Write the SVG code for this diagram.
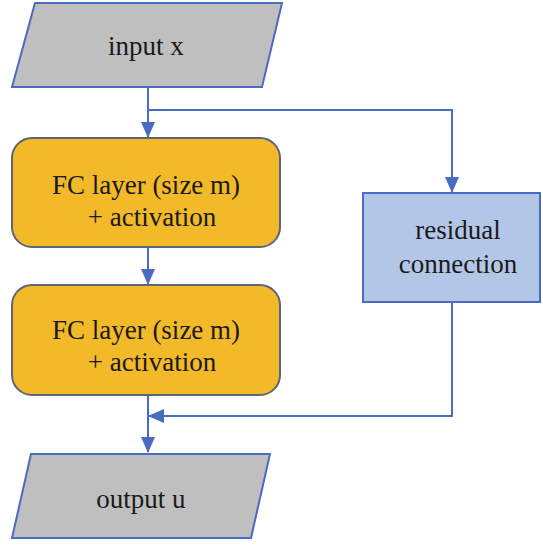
<svg xmlns="http://www.w3.org/2000/svg" width="543" height="546" viewBox="0 0 543 546">
<style>
.io{fill:#bfbfbf;stroke:#4a6cc0;stroke-width:2}
.fc{fill:#f2b928;stroke:#5b6478;stroke-width:2}
.res{fill:#b4c6e7;stroke:#4a6cc0;stroke-width:2}
.t{font-family:'Liberation Serif','Times New Roman','DejaVu Serif',serif;font-size:27px;fill:#1a1a1a;text-anchor:middle}
.c{fill:none;stroke:#4a6cc0;stroke-width:2}
</style>
<defs>
<marker id="ahb" markerWidth="16" markerHeight="14" refX="15" refY="7" orient="auto" markerUnits="userSpaceOnUse">
<path d="M0,0 L16,7 L0,14 z" fill="#4a6cc0"/>
</marker>
</defs>
<g id="connectors">
<path class="c" d="M148,87 V137" marker-end="url(#ahb)"/>
<path class="c" d="M148,110 H452 V192" marker-end="url(#ahb)"/>
<path class="c" d="M148,248 V284" marker-end="url(#ahb)"/>
<path class="c" d="M148,396 V452" marker-end="url(#ahb)"/>
<path class="c" d="M452,303 V416 H149" marker-end="url(#ahb)"/>
</g>
<g id="input">
<polygon class="io" points="35,3 282,3 262,87 12,87"/>
<text class="t" x="146" y="55">input x</text>
</g>
<g id="fc1">
<rect class="fc" x="12" y="138" width="268" height="109" rx="20"/>
<text class="t" x="146" y="194">FC layer (size m)</text>
<text class="t" x="152" y="226">+ activation</text>
</g>
<g id="fc2">
<rect class="fc" x="12" y="285" width="268" height="110" rx="20"/>
<text class="t" x="146" y="339">FC layer (size m)</text>
<text class="t" x="152" y="371">+ activation</text>
</g>
<g id="residual">
<rect class="res" x="363" y="193" width="177" height="109"/>
<text class="t" x="458" y="239">residual</text>
<text class="t" x="458" y="273">connection</text>
</g>
<g id="output">
<polygon class="io" points="31,454 270,454 251,538 12,538"/>
<text class="t" x="141" y="508">output u</text>
</g>
</svg>
